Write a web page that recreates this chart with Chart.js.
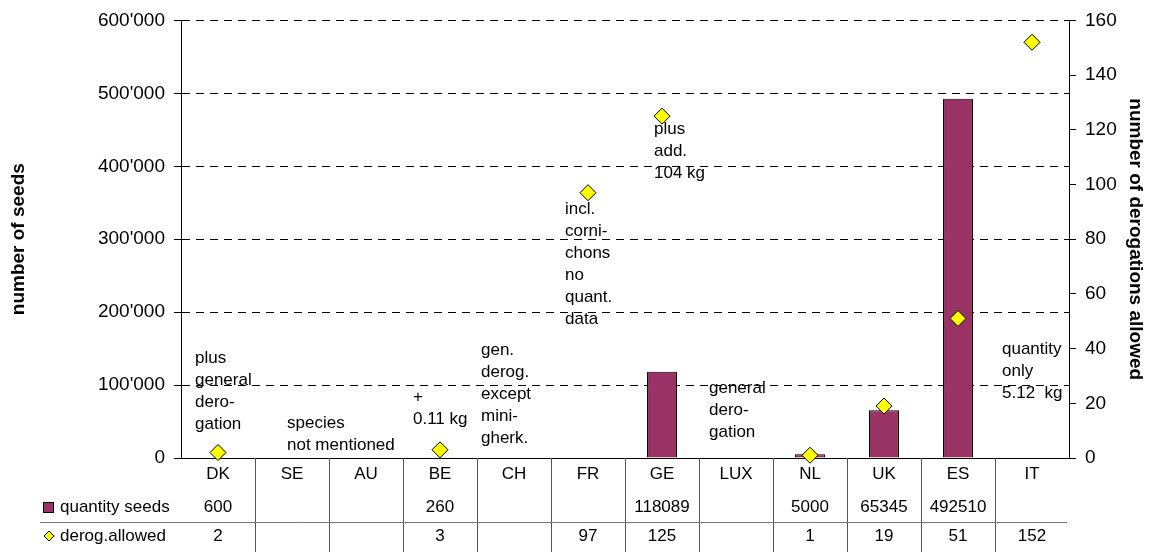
<!DOCTYPE html>
<html>
<head>
<meta charset="utf-8">
<script src="https://cdn.jsdelivr.net/npm/chart.js@4/dist/chart.umd.min.js"></script>
<style>
    html, body { margin: 0; padding: 0; background: #fff; }
    #wrap { width: 1154px; height: 552px; }
</style>
</head>
<body>
<div id="wrap"><canvas id="chart" width="1154" height="552"></canvas></div>
<script>
// Chart data
const countries = ['DK', 'SE', 'AU', 'BE', 'CH', 'FR', 'GE', 'LUX', 'NL', 'UK', 'ES', 'IT'];
const seedQty = [600, null, null, 260, null, null, 118089, null, 5000, 65345, 492510, null];
const derogAllowed = [2, null, null, 3, null, 97, 125, null, 1, 19, 51, 152];
const seedTicks = [0, 100000, 200000, 300000, 400000, 500000, 600000];
const derogTicks = [0, 20, 40, 60, 80, 100, 120, 140, 160];

// Notes written inside the plot (anchored on the derogation axis)
const notes = [
    { cat: 'DK', at: 36.5, lines: ['plus', 'general', 'dero-', 'gation'] },
    { cat: 'SE', at: 12.8, lines: ['species', 'not mentioned'] },
    { cat: 'BE', at: 22.3, lines: ['+', '0.11 kg'] },
    { cat: 'CH', at: 39.5, lines: ['gen.', 'derog.', 'except', 'mini-', 'gherk.'] },
    { cat: 'FR', at: 91, lines: ['incl.', 'corni-', 'chons', 'no', 'quant.', 'data'] },
    { cat: 'GE', at: 120.2, lines: ['plus', 'add.', '104 kg'] },
    { cat: 'LUX', at: 25.6, lines: ['general', 'dero-', 'gation'] },
    { cat: 'IT', at: 39.8, lines: ['quantity', 'only', '5.12  kg'] }
];
const noteIndent = { DK: 14, SE: 32, BE: 10, CH: 4, FR: 14, GE: 29, LUX: 10, IT: 7 };

const FONT = "'Liberation Sans', Arial, sans-serif";

function fmtThousands(v) {
    return String(v).replace(/\B(?=(\d{3})+(?!\d))/g, "'");
}

// Draws the annotations and the data table under the x axis
const tablePlugin = {
    id: 'dataTable',
    afterDraw(chart) {
        const ctx = chart.ctx;
        const x = chart.scales.x;
        const y1 = chart.scales.y1;
        const area = chart.chartArea;
        const n = countries.length;
        const colW = (x.getPixelForValue(n - 1) - x.getPixelForValue(0)) / (n - 1);
        const colLeft = i => x.getPixelForValue(i) - colW / 2;

        ctx.save();

        // notes in the plot
        ctx.font = '17px ' + FONT;
        ctx.fillStyle = '#000';
        ctx.textAlign = 'left';
        ctx.textBaseline = 'middle';
        notes.forEach(note => {
            const i = countries.indexOf(note.cat);
            const left = colLeft(i) + noteIndent[note.cat];
            const top = y1.getPixelForValue(note.at);
            note.lines.forEach((line, k) => ctx.fillText(line, left, top + k * 22));
        });

        // table grid
        const rowSeeds = area.bottom + 49;
        const rowDerog = area.bottom + 78;
        const sep = Math.round(area.bottom + 64) + 0.5;
        ctx.lineWidth = 1;
        ctx.strokeStyle = '#555';
        for (let i = 1; i < n; i++) {
            const bx = Math.round(colLeft(i)) + 0.5;
            ctx.beginPath();
            ctx.moveTo(bx, area.bottom);
            ctx.lineTo(bx, chart.height);
            ctx.stroke();
        }
        ctx.strokeStyle = '#777';
        ctx.beginPath();
        ctx.moveTo(40, sep);
        ctx.lineTo(area.right - 2, sep);
        ctx.stroke();

        // table values
        ctx.fillStyle = '#000';
        ctx.textAlign = 'center';
        countries.forEach((c, i) => {
            const cx = x.getPixelForValue(i);
            if (seedQty[i] !== null) ctx.fillText(String(seedQty[i]), cx, rowSeeds);
            if (derogAllowed[i] !== null) ctx.fillText(String(derogAllowed[i]), cx, rowDerog);
        });

        // row legend
        const bars = chart.data.datasets[1];
        const pts = chart.data.datasets[0];
        ctx.fillStyle = bars.backgroundColor;
        ctx.strokeStyle = '#000';
        ctx.fillRect(43.5, rowSeeds - 4.5, 10, 10);
        ctx.strokeRect(43.5, rowSeeds - 4.5, 10, 10);
        ctx.beginPath();
        ctx.moveTo(49, rowDerog - 5);
        ctx.lineTo(54, rowDerog);
        ctx.lineTo(49, rowDerog + 5);
        ctx.lineTo(44, rowDerog);
        ctx.closePath();
        ctx.fillStyle = pts.backgroundColor;
        ctx.fill();
        ctx.stroke();
        ctx.fillStyle = '#000';
        ctx.textAlign = 'left';
        ctx.fillText(bars.label, 60, rowSeeds);
        ctx.fillText(pts.label, 60, rowDerog);

        ctx.restore();
    }
};

const chart = new Chart(document.getElementById('chart'), {
    data: {
        labels: countries,
        datasets: [{
            type: 'line',
            label: 'derog.allowed',
            data: derogAllowed,
            yAxisID: 'y1',
            showLine: false,
            pointStyle: 'rectRot',
            pointRadius: 8,
            pointHoverRadius: 8,
            backgroundColor: '#FFFF00',
            borderColor: '#000000',
            pointBorderWidth: 1,
            clip: false,
            order: 1
        }, {
            type: 'bar',
            label: 'quantity seeds',
            data: seedQty,
            yAxisID: 'y',
            backgroundColor: '#993366',
            borderColor: '#000000',
            borderWidth: 1,
            categoryPercentage: 1,
            barPercentage: 0.405,
            order: 2
        }]
    },
    options: {
        responsive: false,
        animation: false,
        layout: { padding: { top: 20, right: 0, left: 0, bottom: 0 } },
        plugins: {
            legend: { display: false },
            tooltip: { enabled: false }
        },
        scales: {
            x: {
                grid: { display: false, drawTicks: false },
                border: { display: true, color: '#000', width: 1 },
                ticks: { color: '#000', padding: 6, font: { family: FONT, size: 17 } },
                afterFit: s => { s.height = 94; }
            },
            y: {
                position: 'left',
                min: 0,
                max: 600000,
                afterBuildTicks: s => { s.ticks = seedTicks.map(v => ({ value: v })); },
                ticks: {
                    color: '#000',
                    padding: 9,
                    font: { family: FONT, size: 19 },
                    callback: v => fmtThousands(v)
                },
                grid: {
                    color: c => c.tick && c.tick.value === 0 ? 'rgba(0,0,0,0)' : '#000',
                    tickColor: '#000',
                    tickLength: 7,
                    lineWidth: 1
                },
                border: { display: true, color: '#000', width: 1, dash: [8, 6] },
                title: {
                    display: true,
                    text: 'number of seeds',
                    color: '#000',
                    padding: { top: 7, bottom: 0 },
                    font: { family: FONT, size: 19, weight: 'bold' }
                },
                afterFit: s => { s.width = 181; }
            },
            y1: {
                position: 'right',
                min: 0,
                max: 160,
                afterBuildTicks: s => { s.ticks = derogTicks.map(v => ({ value: v })); },
                ticks: { color: '#000', padding: 9, font: { family: FONT, size: 19 } },
                grid: { drawOnChartArea: false, color: '#000', tickLength: 7 },
                border: { display: true, color: '#000', width: 1 },
                title: {
                    display: true,
                    text: 'number of derogations allowed',
                    color: '#000',
                    padding: { top: 7, bottom: 0 },
                    font: { family: FONT, size: 19, weight: 'bold' }
                },
                afterFit: s => { s.width = 85; }
            }
        }
    },
    plugins: [tablePlugin]
});
</script>
</body>
</html>
